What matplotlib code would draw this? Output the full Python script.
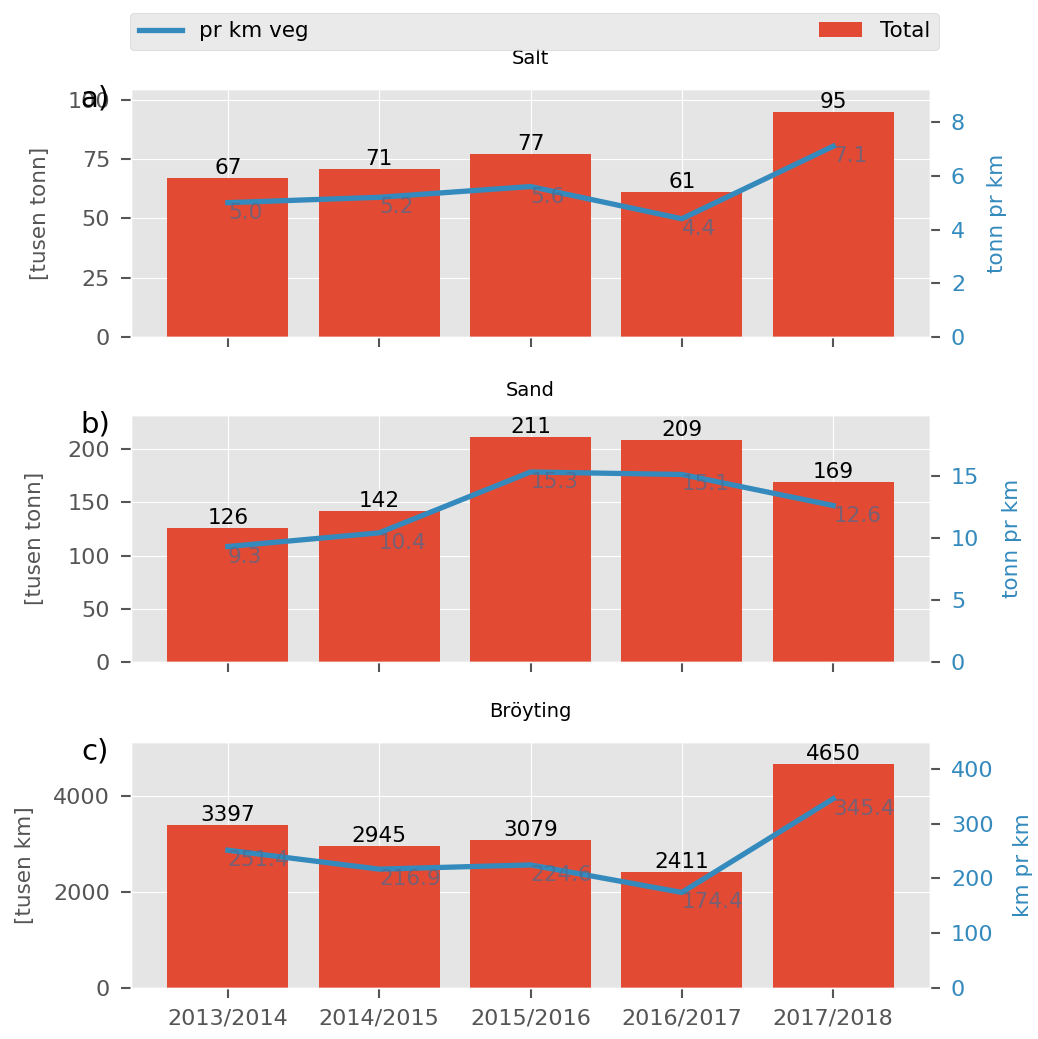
# coding:utf-8
# Salt, sand og bröyting per sesong

import matplotlib
matplotlib.use('Agg')
import matplotlib.pyplot as plt

plt.style.use('ggplot')

sesonger = ['2013/2014', '2014/2015', '2015/2016', '2016/2017', '2017/2018']

salt_total = [67, 71, 77, 61, 95]
salt_pr_km = [5.0, 5.2, 5.6, 4.4, 7.1]

sand_total = [126, 142, 211, 209, 169]
sand_pr_km = [9.3, 10.4, 15.3, 15.1, 12.6]

broyt_total = [3397, 2945, 3079, 2411, 4650]
broyt_pr_km = [251.4, 216.9, 224.6, 174.4, 345.4]

paneler = [
    ('Salt', 'a)', salt_total, salt_pr_km, '[tusen tonn]', 'tonn pr km'),
    ('Sand', 'b)', sand_total, sand_pr_km, '[tusen tonn]', 'tonn pr km'),
    ('Bröyting', 'c)', broyt_total, broyt_pr_km, '[tusen km]', 'km pr km'),
]

blaa = '#348ABD'
roed = '#E24A33'

fig = plt.figure(figsize=(10.38, 10.39), dpi=100)
# [left, bottom, width, height]
plasser = [[0.1262, 0.6757, 0.7698, 0.2386],
           [0.1262, 0.3628, 0.7698, 0.2378],
           [0.1262, 0.0491, 0.7698, 0.2368]]
ylab_x = [-0.101, -0.108, -0.12]
ylab2_x = [1.071, 1.09, 1.104]
tittel_pad = [18, 14, 18]

x = list(range(len(sesonger)))
for i, (tittel, bokstav, total, prkm, ylab, ylab2) in enumerate(paneler):
    ax = fig.add_axes(plasser[i])
    bars = ax.bar(x, total, width=0.8, color=roed, label='Total')
    ax.set_ylim(0, max(total) * 1.1)
    for xi, v in zip(x, total):
        ax.text(xi, v, str(v), ha='center', va='bottom', fontsize=15.5, color='black')
    ax.set_ylabel(ylab, fontsize=15.5, color='#555555')
    ax.yaxis.set_label_coords(ylab_x[i], 0.5)
    ax.tick_params(axis='y', labelsize=16, length=7, width=1.5, pad=8)
    ax.tick_params(axis='x', labelsize=16, length=7, width=1.5, pad=8)
    ax.set_xticks(x)
    if i == 2:
        ax.set_xticklabels(sesonger)
    else:
        ax.set_xticklabels([])
    ax.set_title(tittel, fontsize=14, pad=tittel_pad[i])
    ax.text(-0.045, 0.96, bokstav, transform=ax.transAxes, ha='center', va='center',
            fontsize=21, color='black')

    ax2 = ax.twinx()
    linje, = ax2.plot(x, prkm, color=blaa, linewidth=3.8, label='pr km veg')
    ax2.set_ylim(0, max(prkm) * 1.3)
    ax2.grid(False)
    for xi, v in zip(x, prkm):
        ax2.text(xi, v, '%.1f' % v, ha='left', va='top', fontsize=15.5, color='#4a6a90', alpha=0.7)
    ax2.set_ylabel(ylab2, fontsize=15.5, color=blaa)
    ax2.yaxis.set_label_coords(ylab2_x[i], 0.5)
    ax2.tick_params(axis='y', labelsize=16, labelcolor=blaa, length=7, width=1.5, pad=8)

    if i == 0:
        fig.legend([linje, bars], ['pr km veg', 'Total'],
                   bbox_to_anchor=(0.1252, 0.952, 0.779, 0.039), loc='lower left',
                   mode='expand', ncol=2, fontsize=15.5, borderaxespad=0.0,
                   facecolor='#E5E5E5', edgecolor='#cccccc')

fig.savefig('out.png', dpi=100)
